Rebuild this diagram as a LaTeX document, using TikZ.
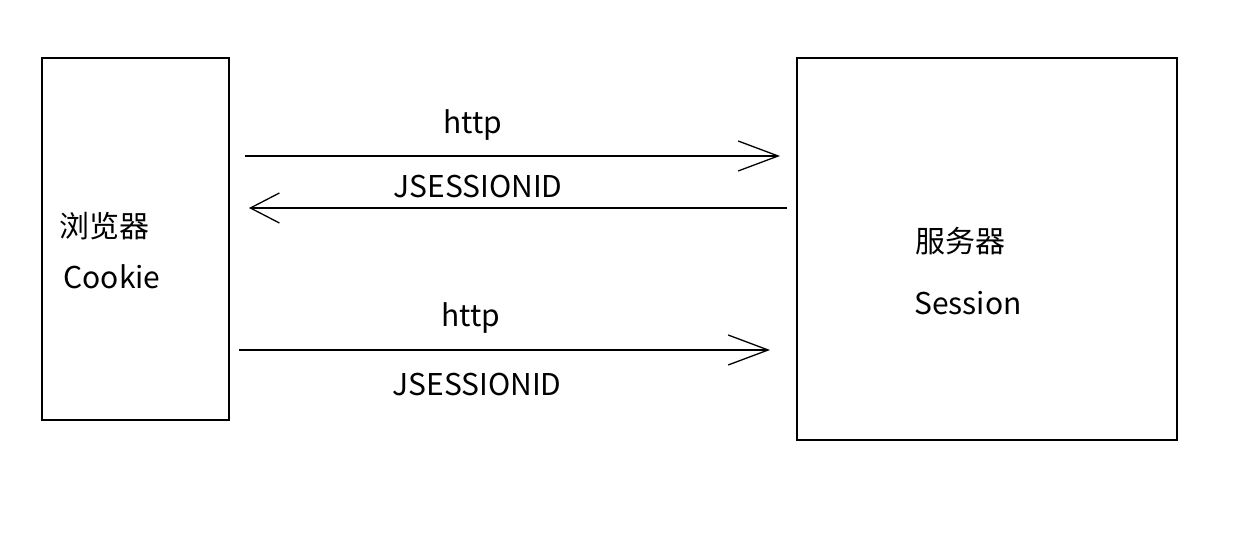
\documentclass[tikz,border=0pt]{standalone}
\usepackage{fontspec}
\newfontfamily\cjk{Noto Sans CJK SC}
\usetikzlibrary{arrows.meta}
\usetikzlibrary{positioning}
\tikzset{
  Kasten/.style={draw,line width=1.6pt,inner sep=0pt}, % für Kästen
  Pfeil/.style={line width=1.5pt,-{Straight Barb[length=#1,width=30pt,line width=1.3pt]}}, % für Pfeile
  Text/.style={font={\cjk\fontsize{30}{36}\selectfont},inner sep=0pt}
}
\begin{document}
\begin{tikzpicture}[x=1pt,y=-1pt,
font=\cjk
]
\useasboundingbox (0,0) rectangle (1248,534);

%Kästen
\node[Kasten, minimum width=187pt, minimum height=362pt] (browser) at (135.5,239) {};
\node[Kasten, minimum width=380pt, minimum height=382pt] (server) at (987,249) {};

\node[Text] (browserName) at (104,226) {浏览器};
\node[Text] (cookie) at (112,277) {Cookie};
\node[Text] (serverName) at (960,241) {服务器};
\node[Text] (session) at (968,303) {Session};

%Pfeilenden
\coordinate (req1s) at (245,156);
\coordinate (req1e) at (780,156);
\coordinate (resps) at (787,208);
\coordinate (respe) at (249,208);
\coordinate (req2s) at (239,350);
\coordinate (req2e) at (770,350);

%Pfeile
\draw[Pfeil=40pt] (req1s) -- (req1e);
\draw[Pfeil=29pt] (resps) -- (respe);
\draw[Pfeil=40pt] (req2s) -- (req2e);

%Beschriftung
\node[Text] (http1) at (473,125) {http};
\node[Text] (jsid1) at (478,187) {JSESSIONID};
\node[Text] (http2) at (471,318) {http};
\node[Text] (jsid2) at (477,385) {JSESSIONID};

\end{tikzpicture}
\end{document}
